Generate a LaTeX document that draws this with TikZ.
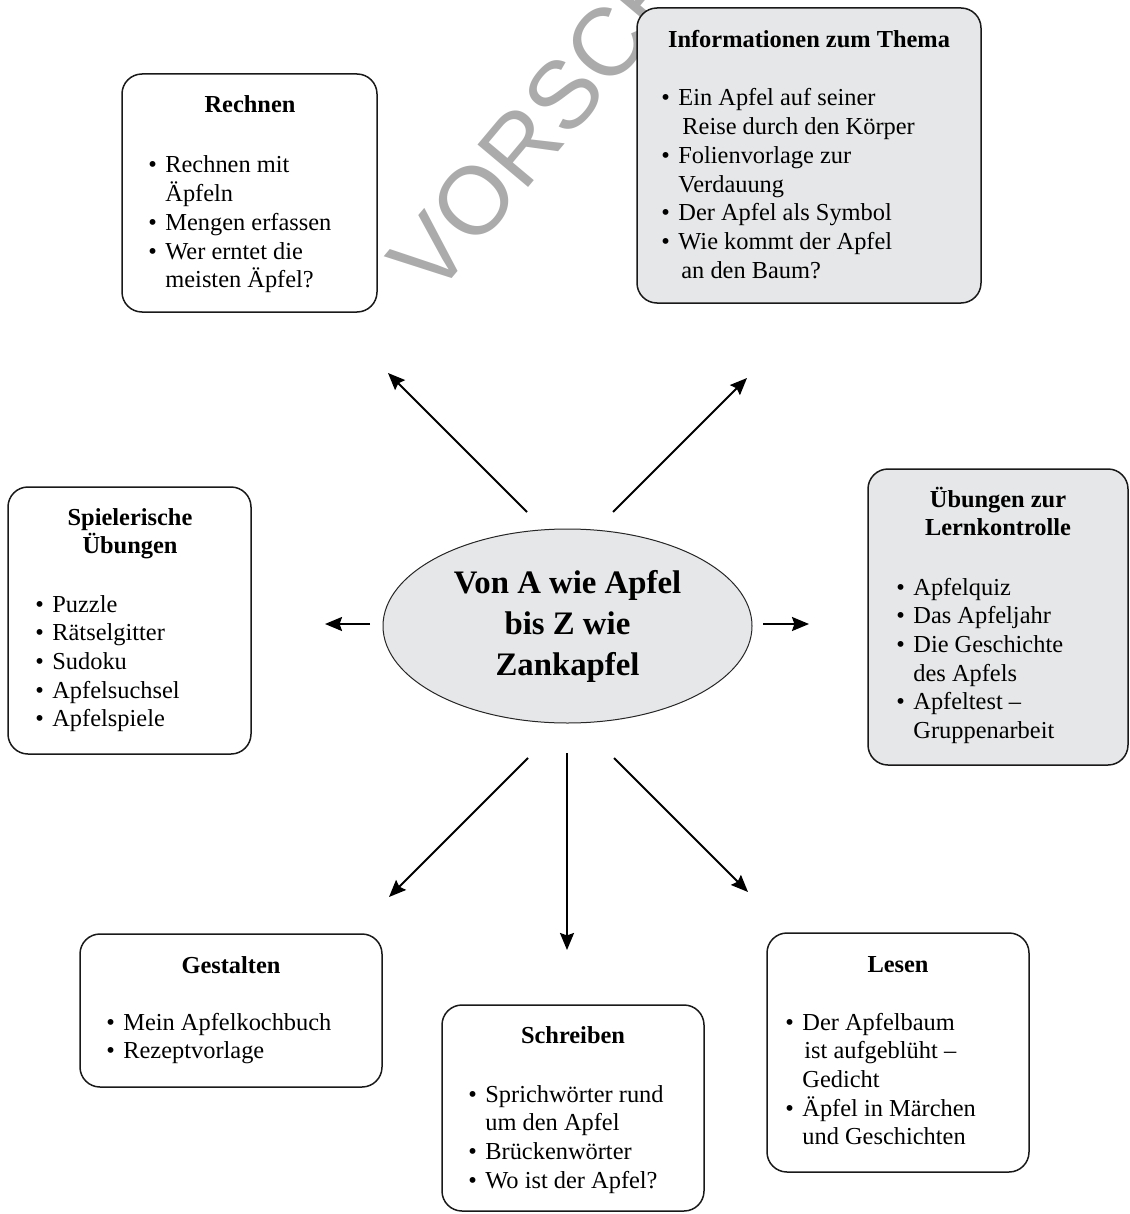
\documentclass[tikz,border=0pt]{standalone}
\usepackage{fontspec}
\setmainfont{Liberation Serif}
\newfontfamily\wmfont{Liberation Sans}
\usetikzlibrary{shapes.geometric,arrows.meta,fit}
\definecolor{boxgray}{RGB}{230,231,232}
\newcommand\bpt[1]{\par\hangindent=8.5pt\hangafter=1\noindent\makebox[8.5pt][l]{\textbullet}#1}
\newcommand\blist[2]{\parbox[t]{#1}{\raggedright\setlength\parskip{0pt}#2}}
\begin{document}
\begin{tikzpicture}[x=0.5pt,y=-0.5pt,
  box/.style={draw=black!90, line width=0.75pt, rounded corners=10pt, inner sep=0pt},
  graybox/.style={box, fill=boxgray},
  ttl/.style={inner sep=0pt, anchor=base, font=\fontsize{12.2}{14.35}\selectfont\bfseries},
  lst/.style={inner sep=0pt, anchor=base west, font=\fontsize{12.2}{14.35}\selectfont},
  arr/.style={line width=1pt, -{Stealth[length=8.5pt,width=7pt,inset=1.2pt]}}]
\useasboundingbox (0,0) rectangle (1129,1214);

% watermark
\begin{scope}
\clip (0,0) rectangle (1129,1214);
\node[rotate=50, inner sep=0pt, text=black!33, font=\wmfont\fontsize{48}{52}\selectfont] (wm) at (584,70) {VORSCHAU};
\end{scope}

% Rechnen
\node[box, fill=white, fit={(122,74)(377,312)}] (rech) {};
\node[ttl] (rechT) at (250,113) {Rechnen};
\node[lst] (rechL) at (148,173) {\blist{120pt}{%
  \bpt{Rechnen mit\newline Äpfeln}
  \bpt{Mengen erfassen}
  \bpt{Wer erntet die\newline meisten Äpfel?}}};

% Informationen
\node[graybox, fit={(637,8)(981,303)}] (info) {};
\node[ttl] (infoT) at (809,48) {Informationen zum Thema};
\node[lst] (infoL) at (661,106) {\blist{160pt}{%
  \bpt{Ein Apfel auf seiner\newline\hspace*{2pt}Reise durch den Körper}
  \bpt{Folienvorlage zur\newline Verdauung}
  \bpt{Der Apfel als Symbol}
  \bpt{Wie kommt der Apfel\newline\hspace*{1.5pt}an den Baum?}}};

% Spielerische Uebungen
\node[box, fit={(8,487)(251,754)}] (spiel) {};
\node[ttl] (spielT) at (130,525) {\parbox[t]{110pt}{\centering Spielerische\\Übungen}};
\node[lst] (spielL) at (35,612) {\blist{110pt}{%
  \bpt{Puzzle}
  \bpt{Rätselgitter}
  \bpt{Sudoku}
  \bpt{Apfelsuchsel}
  \bpt{Apfelspiele}}};

% Uebungen zur Lernkontrolle
\node[graybox, fit={(868,469)(1128,765)}] (uebung) {};
\node[ttl] (uebungT) at (998,507) {\parbox[t]{120pt}{\centering Übungen zur\\Lernkontrolle}};
\node[lst] (uebungL) at (896,595) {\blist{110pt}{%
  \bpt{Apfelquiz}
  \bpt{Das Apfeljahr}
  \bpt{Die Geschichte\newline des Apfels}
  \bpt{Apfeltest –\newline Gruppenarbeit}}};

% Gestalten
\node[box, fit={(80,934)(382,1087)}] (gest) {};
\node[ttl] (gestT) at (231,973) {Gestalten};
\node[lst] (gestL) at (106,1030) {\blist{140pt}{%
  \bpt{Mein Apfelkochbuch}
  \bpt{Rezeptvorlage}}};

% Schreiben
\node[box, fit={(442,1005)(704,1211)}] (schr) {};
\node[ttl] (schrT) at (573,1043) {Schreiben};
\node[lst] (schrL) at (468,1102) {\blist{120pt}{%
  \bpt{Sprichwörter rund\newline um den Apfel}
  \bpt{Brückenwörter}
  \bpt{Wo ist der Apfel?}}};

% Lesen
\node[box, fit={(767,933)(1029,1172)}] (lesen) {};
\node[ttl] (lesenT) at (898,972) {Lesen};
\node[lst] (lesenL) at (785,1030) {\blist{120pt}{%
  \bpt{Der Apfelbaum\newline\hspace*{1pt}ist aufgeblüht –\newline Gedicht}
  \bpt{Äpfel in Märchen\newline und Geschichten}}};

% centre
\node[ellipse, draw=black!85, line width=0.5pt, fill=boxgray, inner sep=0pt,
      minimum width=184.5pt, minimum height=97pt, align=center,
      font=\fontsize{16.4}{20.5}\selectfont\bfseries] (mid) at (567.5,626)
      {Von A wie Apfel\\bis Z wie\\Zankapfel};

% arrows
\coordinate (ulS) at (527,512); \coordinate (ulE) at (388,373);
\coordinate (urS) at (613,512); \coordinate (urE) at (747,378);
\coordinate (lS) at (370,624);  \coordinate (lE) at (325,624);
\coordinate (rS) at (763,624);  \coordinate (rE) at (809,624);
\coordinate (dlS) at (528,758); \coordinate (dlE) at (389,897);
\coordinate (dS) at (567,753);  \coordinate (dE) at (567,950);
\coordinate (drS) at (614,758); \coordinate (drE) at (748,892);
\draw[arr] (ulS) -- (ulE);
\draw[arr] (urS) -- (urE);
\draw[arr] (lS) -- (lE);
\draw[arr] (rS) -- (rE);
\draw[arr] (dlS) -- (dlE);
\draw[arr] (dS) -- (dE);
\draw[arr] (drS) -- (drE);
\end{tikzpicture}
\end{document}
